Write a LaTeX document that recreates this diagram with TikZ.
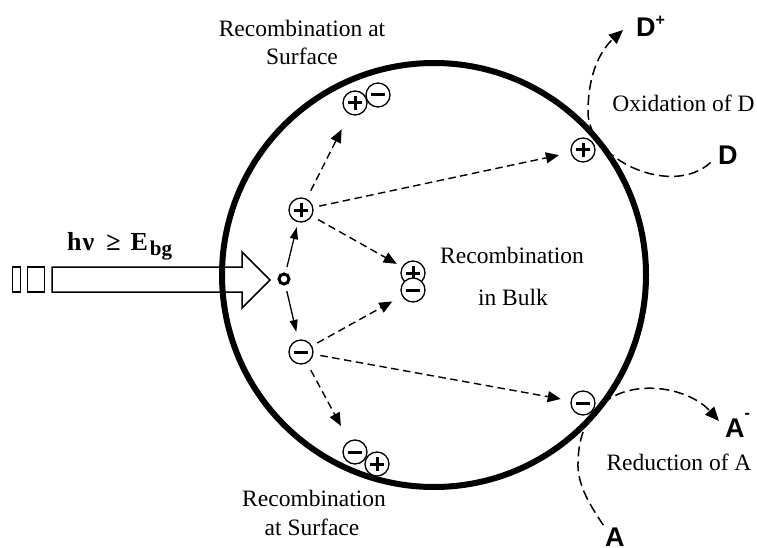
\documentclass[tikz,border=0pt]{standalone}
\usepackage{fontspec}
\setmainfont{Liberation Serif}
\newfontfamily\chemsans{Liberation Sans}
\usetikzlibrary{arrows.meta}

\tikzset{
  caption/.style={inner sep=0pt, anchor=base, font=\fontsize{23.5}{28}\selectfont},
  species/.style={inner sep=0pt, anchor=base west, font=\chemsans\bfseries\fontsize{27}{30}\selectfont},
  carrier/.style={circle, draw, fill=white, line width=1.3pt, minimum size=24pt, inner sep=0pt},
  holeq/.style={carrier, path picture={
      \draw[line width=3pt] ([xshift=-7pt]path picture bounding box.center) -- ([xshift=7pt]path picture bounding box.center);
      \draw[line width=3pt] ([yshift=-7pt]path picture bounding box.center) -- ([yshift=7pt]path picture bounding box.center);}},
  electronq/.style={carrier, path picture={
      \draw[line width=3pt] ([xshift=-7pt]path picture bounding box.center) -- ([xshift=7pt]path picture bounding box.center);}},
  transfer/.style={line width=1.4pt, dash pattern=on 7.5pt off 4.5pt, -{Triangle[length=13pt,width=11pt]}},
  split/.style={line width=1.3pt, -{Triangle[length=12pt,width=8pt]}},
  redox/.style={line width=1.5pt, dash pattern=on 10pt off 5pt, -{Triangle[length=14pt,width=12pt]}},
  beam/.style={line width=1.5pt, fill=white, line join=miter},
}

\begin{document}
\begin{tikzpicture}[x=1pt, y=-1pt]
\useasboundingbox (0,0) rectangle (757,548);

% incoming light: two short pulses and a hollow arrow
\draw[beam] (12.7,267) rectangle (20.7,292);
\draw[beam] (27.7,267) rectangle (44.3,292);
\draw[beam] (52,267) -- (242,267) -- (242,252) -- (270,280) -- (242,308) -- (242,292) -- (52,292) -- cycle;
\node[inner sep=0pt, anchor=base west, font=\bfseries\fontsize{26}{30}\selectfont] (photon) at (67,250)
  {h\kern1pt ν\hspace{12pt}≥\hspace{10pt}E\kern2pt\raisebox{-5pt}{\fontsize{21}{21}\selectfont bg}};

% semiconductor particle
\node[circle, draw, line width=6pt, minimum size=424pt, inner sep=0pt] (particle) at (434,275) {};

% excitation site
\node[circle, draw, line width=3pt, minimum size=10pt, inner sep=0pt] (gen) at (284,279) {};

% charge carriers
\node[holeq] (p1) at (301,210) {};
\node[electronq] (m1) at (301,352) {};
\node[holeq] (topPlus) at (355,103) {};
\node[electronq] (topMinus) at (378,95) {};
\node[holeq] (bulkPlus) at (413,273) {};
\node[electronq] (bulkMinus) at (413,290) {};
\node[holeq] (rightPlus) at (583,150) {};
\node[electronq] (rightMinus) at (583,403) {};
\node[electronq] (botMinus) at (355,452) {};
\node[holeq] (botPlus) at (377,464) {};

% charge separation
\draw[split, shorten <=6pt, shorten >=5pt] (gen) -- (p1);
\draw[split, shorten <=6pt, shorten >=8pt] (gen) -- (m1);

% carrier migration
\draw[transfer, shorten <=9pt, shorten >=17pt] (p1) -- (topPlus);
\draw[transfer, shorten <=6pt, shorten >=12pt] (p1) -- (rightPlus);
\draw[transfer, shorten <=7pt, shorten >=6pt] (p1) -- (bulkPlus);
\draw[transfer, shorten <=6pt, shorten >=11pt] (m1) -- (bulkMinus);
\draw[transfer, shorten <=7pt, shorten >=10pt] (m1) -- (rightMinus);
\draw[transfer, shorten <=8pt, shorten >=17pt] (m1) -- (botMinus);

% redox species
\node[species] (Dplus) at (636,37) {D\raisebox{11pt}{\fontsize{16}{16}\selectfont +}};
\node[species] (D) at (718,165) {D};
\node[species] (Aminus) at (725,437) {A\raisebox{19pt}{\fontsize{16}{16}\selectfont -}};
\node[species] (A) at (605,546.5) {A};

% oxidation and reduction paths
\coordinate (dTurn) at (588,112);
\coordinate (dTip) at (623,30);
\draw[redox, shorten <=10pt] (D.west) .. controls (672,198) and (588,160) .. (dTurn)
  .. controls (588,70) and (603,48) .. (dTip);
\coordinate (aTurn) at (578,462);
\coordinate (aTip) at (719,421);
\draw[redox, shorten <=3pt] (A.north west) .. controls (590,505) and (577,485) .. (aTurn)
  .. controls (580,370) and (680,378) .. (aTip);

% captions
\node[caption] (capTopA) at (302,36.7) {Recombination at};
\node[caption] (capTopB) at (302,65) {Surface};
\node[caption] (capBulkA) at (512,263.3) {Recombination};
\node[caption] (capBulkB) at (513,305) {in Bulk};
\node[caption] (capBotA) at (314,506.7) {Recombination};
\node[caption] (capBotB) at (312,535) {at Surface};
\node[caption] (capOx) at (683.5,111.7) {Oxidation of D};
\node[caption] (capRed) at (679,470.7) {Reduction of A};
\end{tikzpicture}
\end{document}
